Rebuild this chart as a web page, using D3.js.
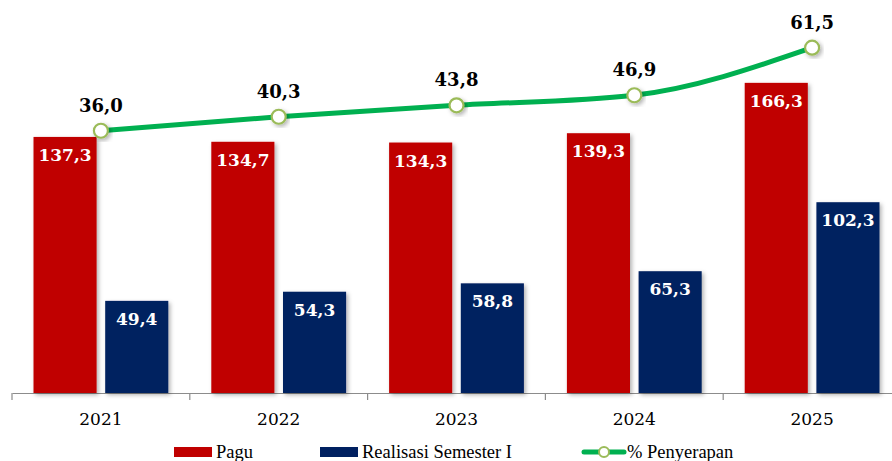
<!DOCTYPE html>
<html><head><meta charset="utf-8">
<script src="https://cdn.jsdelivr.net/npm/d3@7"></script>
<style>body{margin:0;background:#fff}svg{display:block}</style>
</head><body>
<svg id="c" width="892" height="461"></svg>
<script>
const years = ["2021","2022","2023","2024","2025"];
const pagu = [137.3,134.7,134.3,139.3,166.3];
const realisasi = [49.4,54.3,58.8,65.3,102.3];
const penyerapan = [36.0,40.3,43.8,46.9,61.5];
const seriesNames = ["Pagu","Realisasi Semester I","% Penyerapan"];

const fmt = v => v.toFixed(1).replace(".", ",");
const svg = d3.select("#c");
const font = "Georgia, 'DejaVu Serif', 'Liberation Serif', serif";
const font2 = "Georgia, 'Liberation Serif', serif";
const RED = "#C00000", NAVY = "#002060", GREEN = "#00B050";

const defs = svg.append("defs");
const f = defs.append("filter").attr("id","sh").attr("x","-20%").attr("y","-20%").attr("width","150%").attr("height","150%");
f.append("feDropShadow").attr("dx",2).attr("dy",2).attr("stdDeviation",2).attr("flood-color","#000").attr("flood-opacity",0.3);

const x = d3.scaleBand().domain(years).range([12, 901]).paddingInner(0).paddingOuter(0);
const xs = d3.scaleBand().domain([0,1]).range([0, x.bandwidth()]).paddingInner(0.12).paddingOuter(0.3);
const y = d3.scaleLinear().domain([0,200]).range([393, 20]);
const y2 = d3.scaleLinear().domain([0,70]).range([248, 20]);

// axis
const ax = svg.append("g").attr("transform","translate(0,393)")
  .call(d3.axisBottom(x).tickSize(0).tickPadding(20));
ax.select(".domain").attr("stroke","#8c8c8c").attr("stroke-width",1.2);
ax.selectAll("text").attr("font-family",font).attr("font-size",17).attr("fill","#000");
// boundary ticks
const bounds = years.map(d => x(d));
svg.append("g").selectAll("line").data(bounds).join("line")
  .attr("x1",d=>d).attr("x2",d=>d).attr("y1",393).attr("y2",400)
  .attr("stroke","#8c8c8c").attr("stroke-width",1.2);

const groups = [pagu, realisasi];
const colors = [RED, NAVY];
groups.forEach((arr, si) => {
  const g = svg.append("g");
  g.selectAll("rect").data(arr).join("rect")
    .attr("x",(d,i)=>x(years[i]) + xs(si))
    .attr("width", xs.bandwidth())
    .attr("y", d=>y(d))
    .attr("height", d=>y(0)-y(d))
    .attr("fill", colors[si])
    .attr("filter","url(#sh)");
  g.selectAll("text").data(arr).join("text")
    .attr("x",(d,i)=>x(years[i]) + xs(si) + xs.bandwidth()/2)
    .attr("y", d=>y(d)+24)
    .attr("text-anchor","middle")
    .attr("font-family",font).attr("font-weight","bold").attr("font-size",17)
    .attr("fill","#fff")
    .text(fmt);
});

// line
const cx = i => x(years[i]) + x.bandwidth()/2;
const line = d3.line().x((d,i)=>cx(i)).y(d=>y2(d)).curve(d3.curveMonotoneX);
svg.append("path").datum(penyerapan).attr("d",line)
  .attr("fill","none").attr("stroke",GREEN).attr("stroke-width",5);
svg.append("g").selectAll("circle").data(penyerapan).join("circle")
  .attr("cx",(d,i)=>cx(i)).attr("cy",d=>y2(d)).attr("r",7)
  .attr("fill","#fff").attr("stroke","#9BBB59").attr("stroke-width",2.2)
  .attr("filter","url(#sh)");
svg.append("g").selectAll("text").data(penyerapan).join("text")
  .attr("x",(d,i)=>cx(i)).attr("y",d=>y2(d)-19)
  .attr("text-anchor","middle")
  .attr("font-family",font).attr("font-weight","bold").attr("font-size",18)
  .attr("fill","#000").text(fmt);

// legend
const lg = svg.append("g").attr("font-family",font2).attr("font-size",18.5).attr("fill","#000");
lg.append("rect").attr("x",174).attr("y",447).attr("width",38).attr("height",10).attr("fill",RED);
lg.append("text").attr("x",216).attr("y",458).text(seriesNames[0]);
lg.append("rect").attr("x",320).attr("y",447).attr("width",38).attr("height",10).attr("fill",NAVY);
lg.append("text").attr("x",362).attr("y",458).text(seriesNames[1]);
lg.append("line").attr("x1",584).attr("x2",624).attr("y1",452).attr("y2",452).attr("stroke",GREEN).attr("stroke-width",5).attr("stroke-linecap","round");
lg.append("circle").attr("cx",604).attr("cy",452).attr("r",5).attr("fill","#fff").attr("stroke","#9BBB59").attr("stroke-width",2);
lg.append("text").attr("x",627).attr("y",458).text(seriesNames[2]);
</script>
</body></html>
